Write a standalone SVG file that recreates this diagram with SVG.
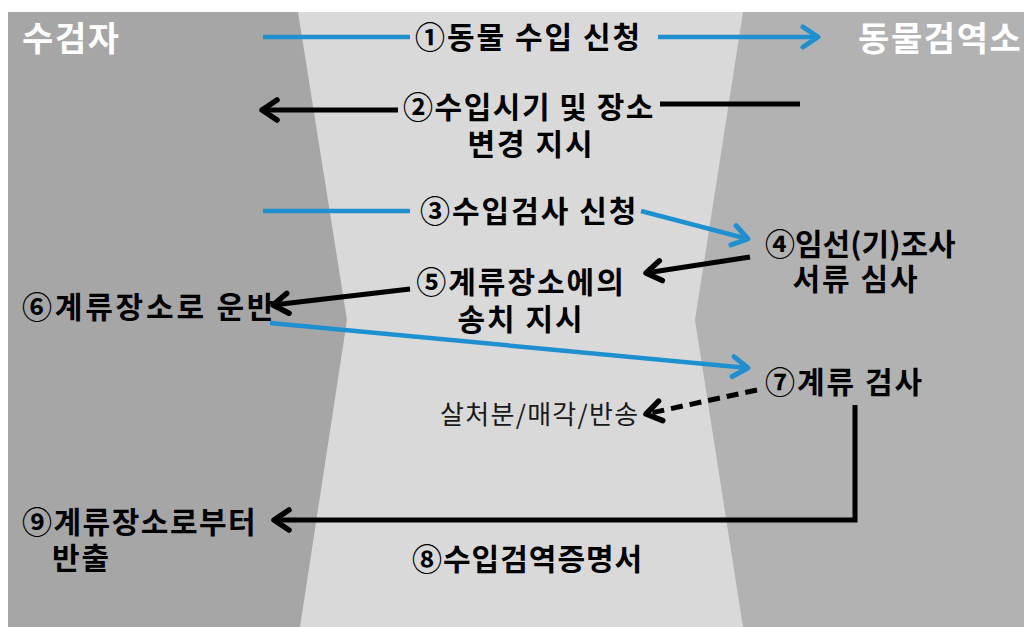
<svg xmlns="http://www.w3.org/2000/svg" width="1024" height="627" viewBox="0 0 1024 627">
<style>
.t{font-family:"Noto Sans CJK KR","Noto Sans",sans-serif;font-weight:bold;font-size:30px;letter-spacing:2px;fill:#000}
.h{font-family:"Noto Sans CJK KR","Noto Sans",sans-serif;font-weight:bold;font-size:34px;letter-spacing:1.6px;fill:#fff}
.r{font-family:"Noto Sans CJK KR","Noto Sans",sans-serif;font-weight:normal;font-size:26px;letter-spacing:1.3px;fill:#1a1a1a}
.b{stroke:#1e90d0;stroke-width:4.5;fill:none}
.k{stroke:#000;stroke-width:5;fill:none}
</style>
<defs>
<marker id="ab" markerUnits="userSpaceOnUse" markerWidth="40" markerHeight="40" viewBox="-20 -20 40 40" refX="0" refY="0" orient="auto" overflow="visible">
<path d="M-15,-10 L0,0 L-15,10" fill="none" stroke="#1e90d0" stroke-width="5" stroke-linecap="round" stroke-linejoin="round"/>
</marker>
<marker id="ak" markerUnits="userSpaceOnUse" markerWidth="40" markerHeight="40" viewBox="-20 -20 40 40" refX="0" refY="0" orient="auto" overflow="visible">
<path d="M-15,-10 L0,0 L-15,10" fill="none" stroke="#000" stroke-width="5.5" stroke-linecap="round" stroke-linejoin="round"/>
</marker>
</defs>
<rect width="1024" height="627" fill="#ffffff"/>
<g id="background">
<rect x="8" y="12" width="1016" height="615" fill="#d9d9d9"/>
<polygon points="8,12 298,12 347,320 300,627 8,627" fill="#a6a6a6"/>
<polygon points="743,12 1024,12 1024,627 743,627 695,320" fill="#b2b2b2"/>
</g>
<g id="connectors">
<line class="b" x1="263" y1="37" x2="410" y2="37"/>
<line class="b" x1="658" y1="37" x2="818" y2="37" marker-end="url(#ab)"/>
<line class="k" x1="398" y1="110" x2="262" y2="110" marker-end="url(#ak)"/>
<line class="k" x1="660" y1="104" x2="800" y2="104"/>
<line class="b" x1="263" y1="211" x2="410" y2="211"/>
<line class="b" x1="641" y1="211" x2="748" y2="239" marker-end="url(#ab)"/>
<line class="k" x1="750" y1="257" x2="646" y2="273" marker-end="url(#ak)"/>
<line class="k" x1="410" y1="289" x2="273" y2="305" marker-end="url(#ak)"/>
<line class="b" x1="270" y1="323" x2="748" y2="368" marker-end="url(#ab)"/>
<line class="k" x1="757" y1="390" x2="646" y2="414" stroke-dasharray="12,7" marker-end="url(#ak)"/>
<polyline class="k" points="855,405 855,520 274,520" marker-end="url(#ak)"/>
</g>
<g id="n-applicant"><text class="h" x="22" y="51">수검자</text></g>
<g id="n-quarantine"><text class="h" x="858" y="51">동물검역소</text></g>
<g id="n-1"><text class="t" x="415" y="48">①동물 수입 신청</text></g>
<g id="n-2"><text class="t" x="529" y="118" text-anchor="middle" style="letter-spacing:1.5px">②수입시기 및 장소</text><text class="t" x="531" y="155" text-anchor="middle">변경 지시</text></g>
<g id="n-3"><text class="t" x="420" y="222">③수입검사 신청</text></g>
<g id="n-4"><text class="t" x="765" y="255" style="letter-spacing:0px">④임선(기)조사</text><text class="t" x="856" y="290" text-anchor="middle">서류 심사</text></g>
<g id="n-5"><text class="t" x="521" y="293" text-anchor="middle">⑤계류장소에의</text><text class="t" x="521" y="330" text-anchor="middle">송치 지시</text></g>
<g id="n-6"><text class="t" x="22" y="318" style="letter-spacing:2.8px">⑥계류장소로 운반</text></g>
<g id="n-7"><text class="t" x="765" y="393">⑦계류 검사</text></g>
<g id="n-dispose"><text class="r" x="440" y="424">살처분/매각/반송</text></g>
<g id="n-9"><text class="t" x="22" y="533" style="letter-spacing:1.5px">⑨계류장소로부터</text><text class="t" x="52" y="569">반출</text></g>
<g id="n-8"><text class="t" x="412" y="570" style="letter-spacing:1px">⑧수입검역증명서</text></g>
</svg>
